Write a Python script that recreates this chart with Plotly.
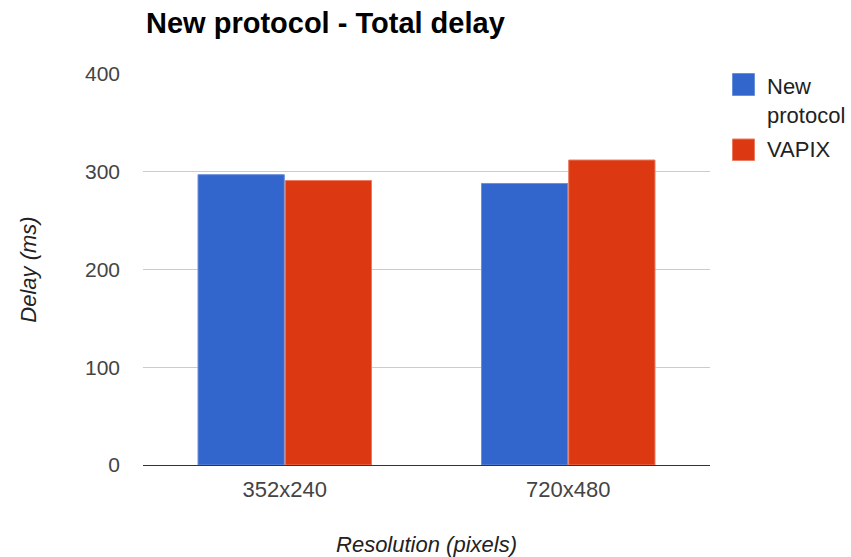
import plotly.graph_objects as go

categories = ["352x240", "720x480"]
series_names = ["New protocol", "VAPIX"]
new_protocol = [297, 288]
vapix = [291, 312]
y_ticks = [0, 100, 200, 300, 400]
colors = ["#3366CC", "#DC3912"]
border_colors = ["#6a8fdc", "#ec7a60"]

FONT = "Liberation Sans, Arial, sans-serif"

fig = go.Figure()
for name, vals, c, bc in zip(series_names, [new_protocol, vapix], colors, border_colors):
    fig.add_trace(go.Bar(
        x=categories, y=vals, name=name, showlegend=False,
        marker=dict(color=c, line=dict(color=bc, width=1)),
    ))

# Manual legend (large square swatches, like the reference)
L_LEFT, PLOT_W, PLOT_B, PLOT_H = 143, 567, 465, 391
def px_x(p):
    return (p - L_LEFT) / PLOT_W
def px_y(p):
    return (PLOT_B - p) / PLOT_H

legend_rows = [(73.5, 95.5, 100.8, "New<br>protocol"), (139, 160.5, 149.5, "VAPIX")]
for (top, bot, tc, label), c, bc in zip(legend_rows, colors, border_colors):
    fig.add_shape(type="rect", xref="paper", yref="paper",
                  x0=px_x(732.5), x1=px_x(754.5), y0=px_y(bot), y1=px_y(top),
                  fillcolor=c, line=dict(color=bc, width=1))
    fig.add_annotation(xref="paper", yref="paper", x=px_x(765), y=px_y(tc),
                       xanchor="left", yanchor="middle", text=label, showarrow=False,
                       align="left", font=dict(family=FONT, size=22, color="#222222"))

fig.update_layout(
    width=851, height=557,
    margin=dict(l=143, r=141, t=74, b=92),
    paper_bgcolor="white", plot_bgcolor="white",
    font=dict(family=FONT, size=22, color="#444444"),
    barmode="group", bargap=0.385, bargroupgap=0.01,
    showlegend=False,
    title=dict(text="<b>New protocol - Total delay</b>", x=146 / 851, xanchor="left",
               y=1 - 23 / 557, yanchor="middle",
               font=dict(family=FONT, size=29, color="#000000")),
    xaxis=dict(showgrid=False, showline=False, ticks="", ticklabelstandoff=9,
               automargin=False,
               tickfont=dict(size=22, color="#444444"),
               title=dict(text="<i>Resolution (pixels)</i>", standoff=36,
                          font=dict(size=22, color="#222222"))),
    yaxis=dict(range=[0, 400], tickvals=y_ticks, showgrid=True, gridcolor="#CCCCCC",
               gridwidth=1, zeroline=True, zerolinecolor="#333333", zerolinewidth=1,
               showline=False, ticks="", ticklabelstandoff=22, automargin=False,
               tickfont=dict(size=21, color="#444444"),
               title=dict(text="<i>Delay (ms)</i>", standoff=42,
                          font=dict(size=22, color="#222222"))),
)

fig.write_html("out.html")
